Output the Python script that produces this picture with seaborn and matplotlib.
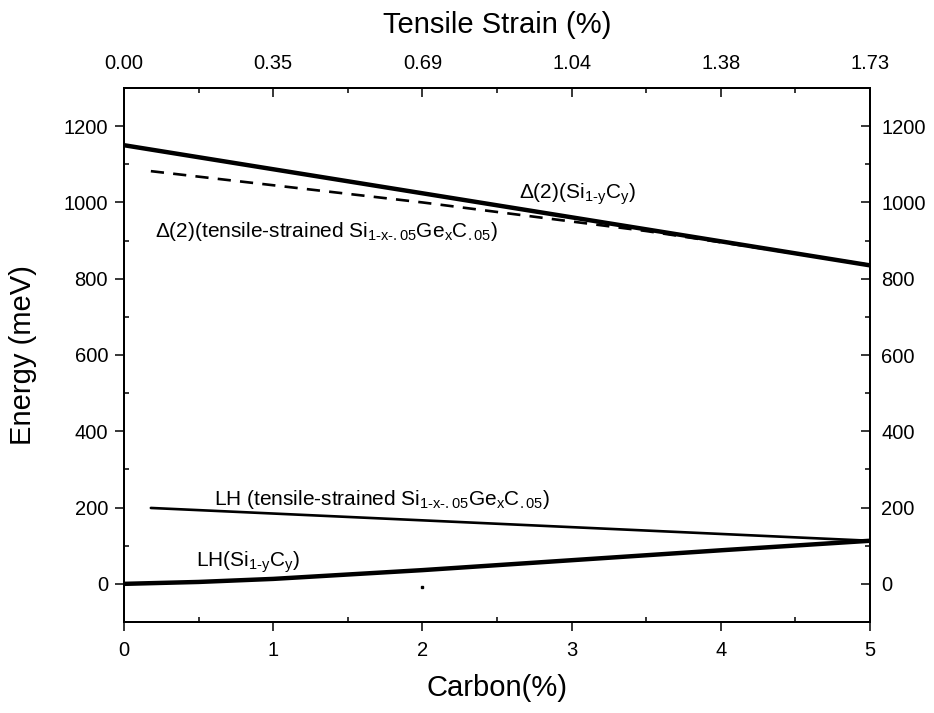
import matplotlib
matplotlib.use("Agg")
import matplotlib.pyplot as plt
import numpy as np
import pandas as pd
import seaborn as sns
from matplotlib.ticker import MultipleLocator, FixedLocator

# ---- data ----
carbon_d2_sic = [0.0, 5.0]
energy_d2_sic = [1150, 835]

carbon_d2_sige = [0.18, 2.0, 3.5, 4.5, 5.0]
energy_d2_sige = [1082, 1000, 925, 866, 836]

carbon_lh_sige = [0.18, 5.0]
energy_lh_sige = [199, 113]

carbon_lh_sic = [0.0, 0.5, 1.0, 2.0, 3.0, 4.0, 5.0]
energy_lh_sic = [0, 5, 13, 36, 62, 88, 113]

dot_carbon = [2.0]
dot_energy = [-8]

bottom_ticks = [0, 1, 2, 3, 4, 5]
top_tick_labels = ["0.00", "0.35", "0.69", "1.04", "1.38", "1.73"]
y_ticks = [0, 200, 400, 600, 800, 1000, 1200]

HY = "\u2010"

sns.set_theme(style="ticks")
plt.rcParams["font.family"] = ["Liberation Sans", "DejaVu Sans"]
plt.rcParams["mathtext.fontset"] = "custom"
plt.rcParams["mathtext.rm"] = "Liberation Sans"
plt.rcParams["mathtext.it"] = "Liberation Sans"
plt.rcParams["mathtext.bf"] = "Liberation Sans:bold"
for key in ("text.color", "axes.labelcolor", "xtick.color", "ytick.color",
            "xtick.labelcolor", "ytick.labelcolor", "axes.edgecolor"):
    plt.rcParams[key] = "black"

fig = plt.figure(figsize=(9.34, 7.13), dpi=100)
ax = fig.add_axes([124 / 934, 1 - 622 / 713, (870 - 124) / 934, (622 - 88) / 713])

df1 = pd.DataFrame({"c": carbon_d2_sic, "e": energy_d2_sic})
df2 = pd.DataFrame({"c": carbon_d2_sige, "e": energy_d2_sige})
df3 = pd.DataFrame({"c": carbon_lh_sige, "e": energy_lh_sige})
df4 = pd.DataFrame({"c": carbon_lh_sic, "e": energy_lh_sic})

sns.lineplot(data=df1, x="c", y="e", ax=ax, color="black", lw=3.2, sort=False)
sns.lineplot(data=df2, x="c", y="e", ax=ax, color="black", lw=1.9, sort=False,
             linestyle=(0, (5, 3.5)))
sns.lineplot(data=df3, x="c", y="e", ax=ax, color="black", lw=1.9, sort=False)
sns.lineplot(data=df4, x="c", y="e", ax=ax, color="black", lw=3.2, sort=False)
ax.plot(dot_carbon, dot_energy, "s", color="black", ms=1.5)

ax.set_xlim(0, 5)
ax.set_ylim(-100, 1300)
ax.set_xticks(bottom_ticks)
ax.set_yticks(y_ticks)
ax.xaxis.set_minor_locator(MultipleLocator(0.5))
ax.yaxis.set_minor_locator(MultipleLocator(100))
ax.set_xlabel("Carbon(%)", fontsize=21, labelpad=10)
ax.set_ylabel("Energy (meV)", fontsize=21, labelpad=19)
ax.tick_params(axis="x", which="major", direction="out", length=6.5, width=1.1,
               labelsize=14.5, color="black", pad=7)
ax.tick_params(axis="y", which="major", direction="out", length=6.5, width=1.1,
               labelsize=14.5, color="black", pad=5)
ax.tick_params(axis="both", which="minor", direction="in", length=3.8, width=1.1,
               color="black")
for s in ax.spines.values():
    s.set_linewidth(1.3)
    s.set_color("black")
    s.set_visible(True)

# right axis
axr = ax.twinx()
axr.set_ylim(ax.get_ylim())
axr.set_yticks(y_ticks)
axr.yaxis.set_minor_locator(MultipleLocator(100))
axr.tick_params(axis="y", which="major", direction="in", length=6.5, width=1.1,
                labelsize=14.5, pad=8)
axr.tick_params(axis="y", which="minor", direction="in", length=3.8, width=1.1)

# top axis
axt = ax.twiny()
axt.set_xlim(ax.get_xlim())
axt.xaxis.set_major_locator(FixedLocator(bottom_ticks))
axt.set_xticklabels(top_tick_labels)
axt.xaxis.set_minor_locator(MultipleLocator(0.5))
axt.tick_params(axis="x", which="major", direction="in", length=6.5, width=1.1,
                labelsize=14.5, pad=11)
axt.tick_params(axis="x", which="minor", direction="in", length=3.8, width=1.1)
axt.set_xlabel("Tensile Strain (%)", fontsize=21, labelpad=15)
for a in (axr, axt):
    for s in a.spines.values():
        s.set_linewidth(1.3)
        s.set_color("black")

ax.text(2.65, 1011, r"$\Delta$(2)(Si$_{1" + HY + r"y}$C$_{y}$)", fontsize=15,
        ha="left", va="baseline")
ax.text(0.21, 909, r"$\Delta$(2)(tensile-strained Si$_{1" + HY + "x" + HY
        + r".05}$Ge$_{x}$C$_{.05}$)", fontsize=15, ha="left", va="baseline")
ax.text(0.60, 207, r"LH (tensile-strained Si$_{1" + HY + "x" + HY
        + r".05}$Ge$_{x}$C$_{.05}$)", fontsize=15, ha="left", va="baseline")
ax.text(0.48, 45, r"LH(Si$_{1" + HY + r"y}$C$_{y}$)", fontsize=15,
        ha="left", va="baseline")

fig.savefig("out.png", dpi=100)
